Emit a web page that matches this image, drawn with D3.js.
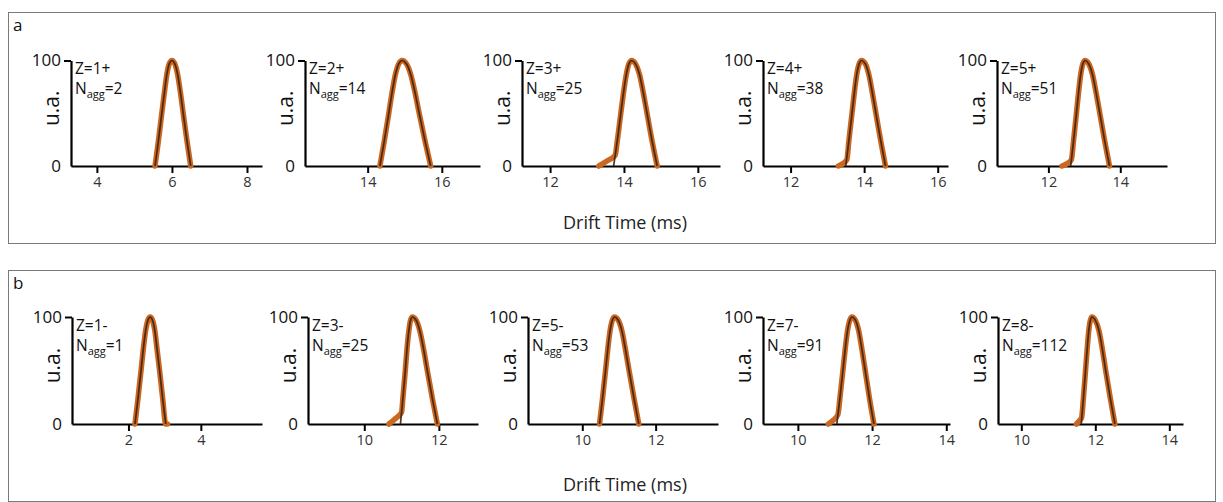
<!DOCTYPE html>
<html>
<head>
<meta charset="utf-8">
<script src="https://cdn.jsdelivr.net/npm/d3@7"></script>
<style>
  html, body { margin: 0; padding: 0; background: #ffffff; }
  svg { display: block; font-family: "Open Sans", "DejaVu Sans", sans-serif; }
</style>
</head>
<body>
<svg id="chart" width="1223" height="502"></svg>
<script>
// ---- Arrival-time distributions: [drift time (ms), intensity (u.a.)] ----
// Panel a: positive charge states
const chargeA = ["1+", "2+", "3+", "4+", "5+"];
const naggA = [2, 14, 25, 38, 51];
const xDomainA = [[3.31, 8.4], [12.31, 17.03], [11.24, 16.6], [11.25, 16.28], [10.57, 15.3]];
const xTicksA = [[4, 6, 8], [14, 16], [12, 14, 16], [12, 14, 16], [12, 14]];

const measA1 = [[5.55, 0], [5.64, 24], [5.73, 50], [5.8, 70], [5.865, 87], [5.93, 97], [6.0, 100], [6.075, 97], [6.15, 87], [6.225, 70], [6.3, 50], [6.4, 24], [6.5, 0]];
const fitA1 = [[5.55, 0], [5.64, 24], [5.73, 50], [5.8, 70], [5.865, 87], [5.93, 97], [6.0, 100], [6.075, 97], [6.15, 87], [6.225, 70], [6.3, 50], [6.4, 24], [6.5, 0]];
const measA2 = [[14.33, 0], [14.45, 24], [14.57, 50], [14.66, 70], [14.75, 87], [14.84, 97], [14.93, 100], [15.045, 97], [15.16, 87], [15.275, 70], [15.39, 50], [15.545, 24], [15.7, 0]];
const fitA2 = [[14.33, 0], [14.45, 24], [14.57, 50], [14.66, 70], [14.75, 87], [14.84, 97], [14.93, 100], [15.045, 97], [15.16, 87], [15.275, 70], [15.39, 50], [15.545, 24], [15.7, 0]];
const measA3 = [[13.32, 0], [13.55, 5], [13.76, 10], [13.82, 24], [13.915, 50], [13.99, 70], [14.065, 87], [14.135, 97], [14.21, 100], [14.31, 97], [14.42, 87], [14.52, 70], [14.625, 50], [14.76, 24], [14.9, 0]];
const fitA3 = [[13.72, 0], [13.82, 24], [13.915, 50], [13.99, 70], [14.065, 87], [14.135, 97], [14.21, 100], [14.31, 97], [14.42, 87], [14.52, 70], [14.625, 50], [14.76, 24], [14.9, 0]];
const measA4 = [[13.3, 0], [13.45, 3], [13.53, 6], [13.585, 24], [13.67, 50], [13.735, 70], [13.8, 87], [13.865, 97], [13.93, 100], [14.03, 97], [14.125, 87], [14.22, 70], [14.32, 50], [14.45, 24], [14.58, 0]];
const fitA4 = [[13.5, 0], [13.585, 24], [13.67, 50], [13.735, 70], [13.8, 87], [13.865, 97], [13.93, 100], [14.03, 97], [14.125, 87], [14.22, 70], [14.32, 50], [14.45, 24], [14.58, 0]];
const measA5 = [[12.38, 0], [12.55, 3], [12.64, 6], [12.7, 24], [12.78, 50], [12.84, 70], [12.9, 87], [12.96, 97], [13.02, 100], [13.12, 97], [13.225, 87], [13.325, 70], [13.43, 50], [13.565, 24], [13.7, 0]];
const fitA5 = [[12.62, 0], [12.7, 24], [12.78, 50], [12.84, 70], [12.9, 87], [12.96, 97], [13.02, 100], [13.12, 97], [13.225, 87], [13.325, 70], [13.43, 50], [13.565, 24], [13.7, 0]];

// Panel b: negative charge states
const chargeB = ["1-", "3-", "5-", "7-", "8-"];
const naggB = [1, 25, 53, 91, 112];
const xDomainB = [[0.44, 5.69], [8.49, 13.05], [8.52, 13.7], [9.06, 14.1], [9.37, 14.37]];
const xTicksB = [[2, 4], [10, 12], [10, 12], [10, 12, 14], [10, 12, 14]];

const measB1 = [[2.18, 0], [2.264, 24], [2.348, 50], [2.41, 70], [2.474, 87], [2.537, 97], [2.6, 100], [2.665, 97], [2.73, 87], [2.79, 70], [2.86, 50], [2.945, 24], [3.03, 0], [3.08, 0]];
const fitB1 = [[2.18, 0], [2.264, 24], [2.348, 50], [2.41, 70], [2.474, 87], [2.537, 97], [2.6, 100], [2.665, 97], [2.73, 87], [2.79, 70], [2.86, 50], [2.945, 24], [3.03, 0]];
const measB2 = [[10.66, 0], [10.83, 5], [11.0, 11], [11.035, 24], [11.1, 50], [11.145, 70], [11.195, 87], [11.24, 97], [11.29, 100], [11.39, 97], [11.49, 87], [11.59, 70], [11.69, 50], [11.825, 24], [11.96, 0]];
const fitB2 = [[10.97, 0], [11.035, 24], [11.1, 50], [11.145, 70], [11.195, 87], [11.24, 97], [11.29, 100], [11.39, 97], [11.49, 87], [11.59, 70], [11.69, 50], [11.825, 24], [11.96, 0]];
const measB3 = [[10.47, 0], [10.552, 24], [10.634, 50], [10.695, 70], [10.757, 87], [10.82, 97], [10.88, 100], [10.98, 97], [11.08, 87], [11.175, 70], [11.275, 50], [11.41, 24], [11.54, 0]];
const fitB3 = [[10.47, 0], [10.552, 24], [10.634, 50], [10.695, 70], [10.757, 87], [10.82, 97], [10.88, 100], [10.98, 97], [11.08, 87], [11.175, 70], [11.275, 50], [11.41, 24], [11.54, 0]];
const measB4 = [[10.82, 0], [10.97, 4], [11.08, 9], [11.132, 24], [11.214, 50], [11.275, 70], [11.337, 87], [11.4, 97], [11.46, 100], [11.55, 97], [11.64, 87], [11.725, 70], [11.815, 50], [11.93, 24], [12.05, 0]];
const fitB4 = [[11.05, 0], [11.132, 24], [11.214, 50], [11.275, 70], [11.337, 87], [11.4, 97], [11.46, 100], [11.55, 97], [11.64, 87], [11.725, 70], [11.815, 50], [11.93, 24], [12.05, 0]];
const measB5 = [[11.49, 0], [11.57, 3], [11.63, 6], [11.678, 24], [11.736, 50], [11.78, 70], [11.823, 87], [11.867, 97], [11.91, 100], [12.0, 97], [12.1, 87], [12.19, 70], [12.28, 50], [12.405, 24], [12.53, 0]];
const fitB5 = [[11.62, 0], [11.678, 24], [11.736, 50], [11.78, 70], [11.823, 87], [11.867, 97], [11.91, 100], [12.0, 97], [12.1, 87], [12.19, 70], [12.28, 50], [12.405, 24], [12.53, 0]];

const yTicks = [0, 100];

// ---- layout ----
const rows = [
  {
    letter: "a", boxTop: 12.5, boxBottom: 243.5, yTop: 60.5, yBottom: 166, titleY: 229,
    charge: chargeA, nagg: naggA, domains: xDomainA, ticks: xTicksA,
    meas: [measA1, measA2, measA3, measA4, measA5],
    fit: [fitA1, fitA2, fitA3, fitA4, fitA5],
    px: [[71, 262], [305, 480], [522, 720], [763, 948], [997, 1167]]
  },
  {
    letter: "b", boxTop: 270.5, boxBottom: 501.5, yTop: 317, yBottom: 424, titleY: 491,
    charge: chargeB, nagg: naggB, domains: xDomainB, ticks: xTicksB,
    meas: [measB1, measB2, measB3, measB4, measB5],
    fit: [fitB1, fitB2, fitB3, fitB4, fitB5],
    px: [[72, 262], [308, 478], [528, 718], [763, 950], [998, 1183]]
  }
];

const svg = d3.select("#chart");
const orange = "#cb6720";
const dark = "#3a2210";

rows.forEach(row => {
  // frame around the row
  svg.append("rect")
    .attr("x", 8.5).attr("y", row.boxTop)
    .attr("width", 1207).attr("height", row.boxBottom - row.boxTop)
    .attr("fill", "none").attr("stroke", "#7a7a7a").attr("stroke-width", 1);

  svg.append("text")
    .attr("x", 13).attr("y", row.boxTop + 18)
    .attr("font-size", 17).attr("fill", "#111")
    .text(row.letter);

  svg.append("text")
    .attr("x", 625).attr("y", row.titleY)
    .attr("text-anchor", "middle")
    .attr("font-size", 18).attr("fill", "#222")
    .text("Drift Time (ms)");

  const y = d3.scaleLinear().domain([0, 100]).range([row.yBottom, row.yTop]);

  row.px.forEach((range, i) => {
    const x = d3.scaleLinear().domain(row.domains[i]).range(range);
    const g = svg.append("g");

    // x axis
    const xa = g.append("g")
      .attr("transform", `translate(0,${row.yBottom})`)
      .call(d3.axisBottom(x).tickValues(row.ticks[i]).tickFormat(d3.format("d"))
        .tickSizeInner(7).tickSizeOuter(0).tickPadding(4));
    xa.select(".domain").attr("stroke", "#000").attr("stroke-width", 2.2);
    xa.selectAll(".tick line").attr("stroke", "#000").attr("stroke-width", 2);
    xa.selectAll(".tick text")
      .attr("font-size", 14.5).attr("fill", "#333")
      .attr("font-family", "'Open Sans', sans-serif");

    // y axis
    const ya = g.append("g")
      .attr("transform", `translate(${range[0]},0)`)
      .call(d3.axisLeft(y).tickValues(yTicks).tickFormat(d3.format("d"))
        .tickSizeInner(7).tickSizeOuter(0).tickPadding(3));
    ya.select(".domain").attr("stroke", "#000").attr("stroke-width", 2.2);
    ya.selectAll(".tick line").attr("stroke", "#000").attr("stroke-width", 2)
      .attr("opacity", d => d === 0 ? 0 : 1);
    ya.selectAll(".tick text")
      .attr("font-size", 17).attr("fill", "#111")
      .attr("font-family", "'Open Sans', sans-serif");

    // y axis title
    g.append("text")
      .attr("transform", `translate(${range[0] - 12},${(row.yTop + row.yBottom) / 2 - 5}) rotate(-90)`)
      .attr("text-anchor", "middle")
      .attr("font-size", 21).attr("fill", "#111")
      .text("u.a.");

    // charge state and aggregation number
    g.append("text")
      .attr("x", range[0] + 4).attr("y", row.yTop + 13.5)
      .attr("font-size", 15.5).attr("fill", "#111")
      .text("Z=" + row.charge[i]);
    const n = g.append("text")
      .attr("x", range[0] + 4).attr("y", row.yTop + 33.5)
      .attr("font-size", 15.5).attr("fill", "#111");
    n.append("tspan").text("N");
    n.append("tspan").attr("font-size", 11).attr("dy", 4).text("agg");
    n.append("tspan").attr("dy", -4).text("=" + row.nagg[i]);

    const line = d3.line()
      .x(d => x(d[0])).y(d => y(d[1]))
      .curve(d3.curveMonotoneX);

    // measured distribution
    g.append("path")
      .datum(row.meas[i])
      .attr("d", line)
      .attr("fill", "none").attr("stroke", orange)
      .attr("stroke-width", 5.5).attr("stroke-linejoin", "round").attr("stroke-linecap", "round");

    // fitted curve
    g.append("path")
      .datum(row.fit[i])
      .attr("d", line)
      .attr("fill", "none").attr("stroke", dark)
      .attr("stroke-width", 1.7).attr("opacity", 0.9);
  });
});
</script>
</body>
</html>
